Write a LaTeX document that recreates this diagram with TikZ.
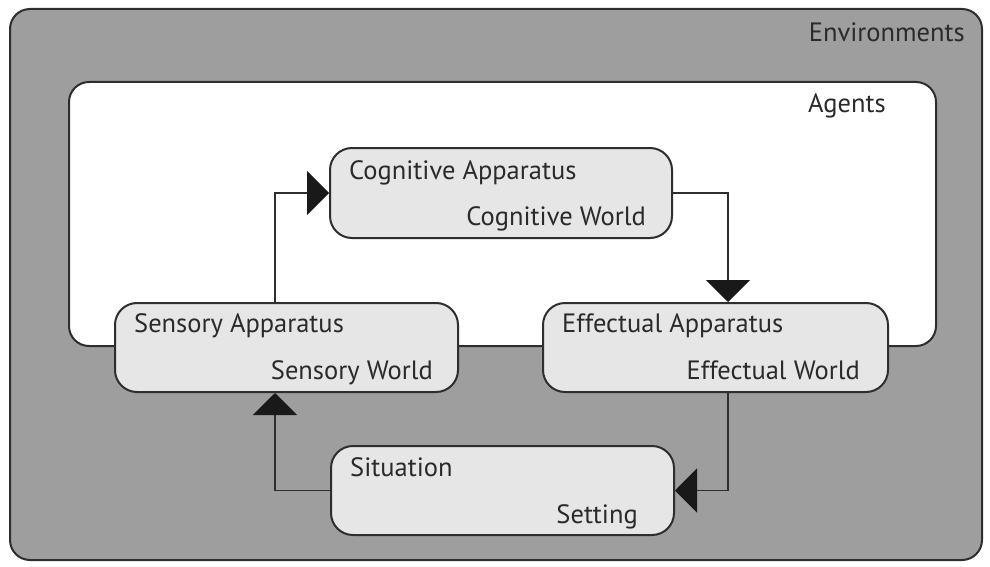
\documentclass[tikz,border=0pt]{standalone}
\usepackage{fontspec}
\setmainfont{PT Sans}
\usetikzlibrary{arrows.meta}
\definecolor{envgray}{HTML}{9E9E9F}
\definecolor{boxgray}{HTML}{E6E6E7}
\definecolor{linegray}{HTML}{2E2E2E}
\definecolor{txtgray}{HTML}{2A2A2A}
\tikzset{
  frame/.style={draw=linegray, line width=2pt, rounded corners=20pt},
  box/.style={draw=linegray, line width=2pt, fill=boxgray, rounded corners=22pt, inner sep=0pt},
  conn/.style={draw=linegray, line width=1.5pt, -{Triangle[width=44pt,length=22pt,color=black!90]}},
  lbl/.style={inner sep=0pt, text=txtgray, font=\fontsize{26.5}{30}\selectfont},
}
\begin{document}
\begin{tikzpicture}[x=1pt,y=-1pt]
\useasboundingbox (0,0) rectangle (990,567);
\node[frame, fill=envgray, minimum width=972, minimum height=551, inner sep=0pt] (env) at (496,284.5) {};
\node[frame, fill=white, minimum width=867, minimum height=264, inner sep=0pt] (agents) at (502.5,214) {};
\node[lbl, anchor=base east] (envlbl) at (965,42) {Environments};
\node[lbl, anchor=base west] (aglbl) at (808,113) {Agents};

\node[box, minimum width=342, minimum height=90] (cog) at (501,193) {};
\node[box, minimum width=343, minimum height=89] (sen) at (286.5,347.5) {};
\node[box, minimum width=345, minimum height=89] (eff) at (715.5,347.5) {};
\node[box, minimum width=343, minimum height=89] (sit) at (502.5,490.5) {};

\node[lbl, anchor=base west] (cogA) at (349,179) {Cognitive Apparatus};
\node[lbl, anchor=base east] (cogW) at (646,225) {Cognitive World};
\node[lbl, anchor=base west] (senA) at (134,332) {Sensory Apparatus};
\node[lbl, anchor=base east] (senW) at (433,379) {Sensory World};
\node[lbl, anchor=base west] (effA) at (562,332) {Effectual Apparatus};
\node[lbl, anchor=base east] (effW) at (860,379) {Effectual World};
\node[lbl, anchor=base west] (sitA) at (350,476) {Situation};
\node[lbl, anchor=base east] (sitW) at (638,523) {Setting};

\coordinate (xl) at (275,0);
\coordinate (xr) at (728,0);
\draw[conn] (sen.north -| xl) |- (cog.west);
\draw[conn] (cog.east) -| (xr |- eff.north);
\draw[conn] (eff.south -| xr) |- (sit.east);
\draw[conn] (sit.west) -| (xl |- sen.south);
\end{tikzpicture}
\end{document}
